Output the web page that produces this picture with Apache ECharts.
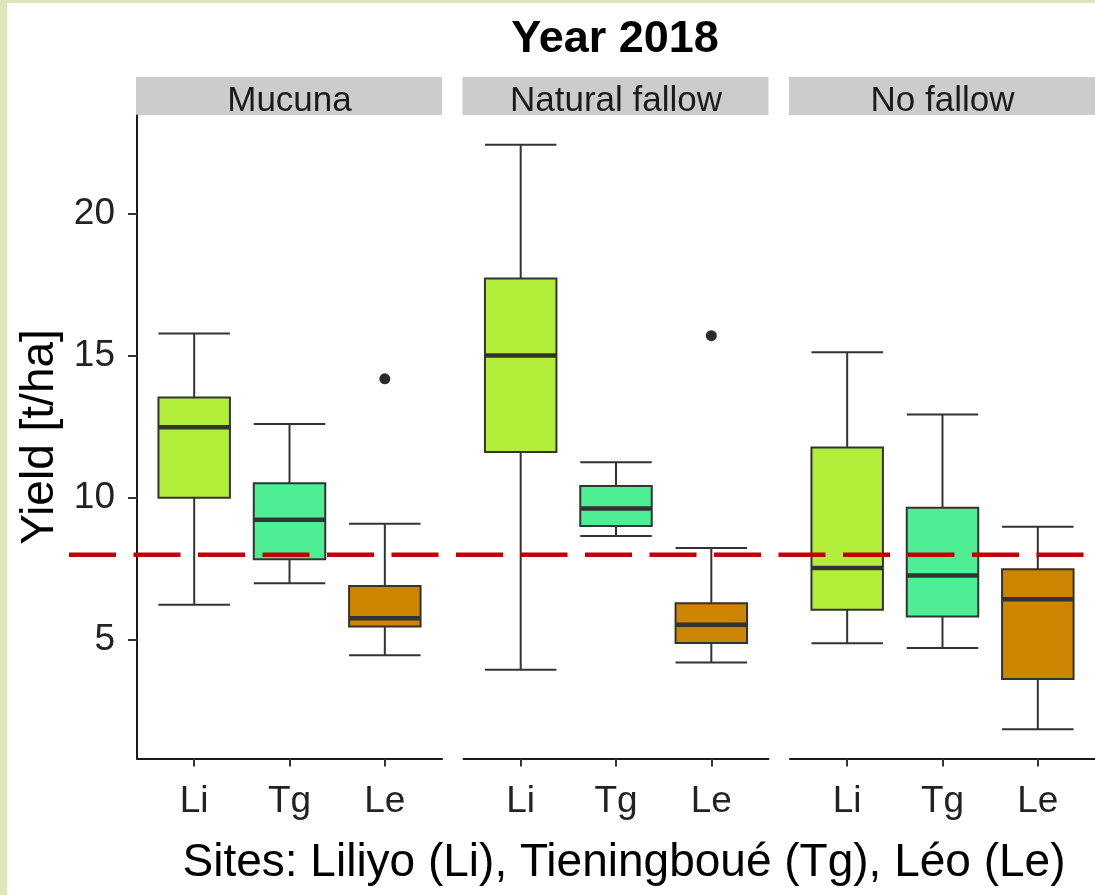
<!DOCTYPE html>
<html>
<head>
<meta charset="utf-8">
<script src="https://cdn.jsdelivr.net/npm/echarts@6/dist/echarts.min.js"></script>
<style>
  html, body { margin: 0; padding: 0; background: #fff; }
  #chart { width: 1095px; height: 895px; }
</style>
</head>
<body>
<div id="chart"></div>
<script>
// ---- data -------------------------------------------------------------
const sites = ['Li', 'Tg', 'Le'];
const treatments = ['Mucuna', 'Natural fallow', 'No fallow'];

// five-number summaries per site, in site order: [min, Q1, median, Q3, max]
const mucunaStats = [
  [6.24, 10.01, 12.49, 13.54, 15.80],
  [7.00, 7.84, 9.23, 10.52, 12.61],
  [4.46, 5.47, 5.76, 6.90, 9.09]
];
const naturalFallowStats = [
  [3.95, 11.62, 15.02, 17.74, 22.45],
  [8.66, 9.01, 9.63, 10.42, 11.26],
  [4.20, 4.89, 5.53, 6.29, 8.24]
];
const noFallowStats = [
  [4.88, 6.06, 7.53, 11.78, 15.14],
  [4.71, 5.82, 7.27, 9.66, 12.94],
  [1.85, 3.62, 6.43, 7.49, 8.99]
];

// outlying plots: site label and yield
const mucunaOutlierSites = ['Le'];
const mucunaOutlierValues = [14.2];
const naturalFallowOutlierSites = ['Le'];
const naturalFallowOutlierValues = [15.72];
const noFallowOutlierSites = [];
const noFallowOutlierValues = [];

const yTicks = [5, 10, 15, 20];
const referenceYield = 8;

// ---- styling / layout -------------------------------------------------
const FONT = '"Liberation Sans", Arial, Helvetica, sans-serif';
const siteColors = ['#b3ee3a', '#4eee94', '#cd8500'];
const ink = '#333333';
const panelLefts = [137, 463.5, 790];
const panelWidth = 305;
const plotTop = 115.5;
const plotHeight = 643;
const yMin = 0.82, yMax = 23.48;
const xMin = 0.4, xMax = 3.6;
const siteIndex = s => sites.indexOf(s) + 1;

const panels = [
  { stats: mucunaStats, oSites: mucunaOutlierSites, oVals: mucunaOutlierValues },
  { stats: naturalFallowStats, oSites: naturalFallowOutlierSites, oVals: naturalFallowOutlierValues },
  { stats: noFallowStats, oSites: noFallowOutlierSites, oVals: noFallowOutlierValues }
];

const grids = panelLefts.map(l => ({ left: l, top: plotTop, width: panelWidth, height: plotHeight }));
// full-width layer for the reference line
grids.push({ left: 69, top: plotTop, width: 1095 - 69, height: plotHeight });

const xAxes = panelLefts.map((_, i) => ({
  gridIndex: i, type: 'value', min: xMin, max: xMax,
  axisLine: { show: true, onZero: false, lineStyle: { color: '#1a1a1a', width: 2 } },
  axisTick: { show: true, customValues: [1, 2, 3], length: 8, lineStyle: { color: ink, width: 2 } },
  axisLabel: {
    customValues: [1, 2, 3], formatter: v => sites[Math.round(v) - 1],
    fontFamily: FONT, fontSize: 37, color: '#222', margin: 25
  },
  splitLine: { show: false }
}));
xAxes.push({ gridIndex: 3, type: 'value', min: 0, max: 1, show: false });

const yAxes = panelLefts.map((_, i) => ({
  gridIndex: i, type: 'value', min: yMin, max: yMax,
  show: i === 0,
  name: i === 0 ? 'Yield [t/ha]' : '',
  nameLocation: 'middle', nameGap: 74,
  nameTextStyle: { fontFamily: FONT, fontSize: 46, color: '#000' },
  axisLine: { show: true, lineStyle: { color: '#1a1a1a', width: 2 } },
  axisTick: { show: true, customValues: yTicks, length: 9, lineStyle: { color: ink, width: 2 } },
  axisLabel: { customValues: yTicks, fontFamily: FONT, fontSize: 37, color: '#222', margin: 22 },
  splitLine: { show: false }
}));
yAxes.push({ gridIndex: 3, type: 'value', min: yMin, max: yMax, show: false });

function boxRenderer(params, api) {
  const x = api.value(0);
  const color = siteColors[Math.round(x) - 1];
  const half = api.size([0.75, 0])[0] / 2;
  const pMin = api.coord([x, api.value(1)]);
  const pQ1 = api.coord([x, api.value(2)]);
  const pMed = api.coord([x, api.value(3)]);
  const pQ3 = api.coord([x, api.value(4)]);
  const pMax = api.coord([x, api.value(5)]);
  const cx = pMed[0];
  const line = (x1, y1, x2, y2, w) => ({
    type: 'line', shape: { x1, y1, x2, y2 },
    style: { stroke: ink, lineWidth: w }
  });
  return {
    type: 'group',
    children: [
      line(cx, pMax[1], cx, pQ3[1], 2),
      line(cx, pQ1[1], cx, pMin[1], 2),
      line(cx - half, pMax[1], cx + half, pMax[1], 2),
      line(cx - half, pMin[1], cx + half, pMin[1], 2),
      {
        type: 'rect',
        shape: { x: cx - half, y: pQ3[1], width: half * 2, height: pQ1[1] - pQ3[1] },
        style: { fill: color, stroke: ink, lineWidth: 2 }
      },
      line(cx - half, pMed[1], cx + half, pMed[1], 4.5)
    ]
  };
}

const series = [];
panels.forEach((p, i) => {
  series.push({
    type: 'custom', name: treatments[i], xAxisIndex: i, yAxisIndex: i,
    data: p.stats.map((s, k) => [k + 1, ...s]),
    encode: { x: 0, y: [1, 2, 3, 4, 5] },
    renderItem: boxRenderer, z: 2, silent: true
  });
  series.push({
    type: 'scatter', xAxisIndex: i, yAxisIndex: i,
    data: p.oSites.map((s, k) => [siteIndex(s), p.oVals[k]]),
    symbolSize: 11, itemStyle: { color: '#2b2b2b', opacity: 1 }, z: 3, silent: true
  });
});
series.push({
  type: 'line', xAxisIndex: 3, yAxisIndex: 3,
  data: [[0, referenceYield], [1, referenceYield]],
  symbol: 'none', silent: true, z: 5,
  lineStyle: { color: '#c00000', width: 4.5, type: [47, 17.5] }
});

const graphic = [
  { type: 'rect', shape: { x: 0, y: 0, width: 1095, height: 3 }, style: { fill: '#dde6b8' } },
  { type: 'rect', shape: { x: 0, y: 0, width: 7, height: 895 }, style: { fill: '#dde6b8' } },
  {
    type: 'text', x: 615, y: 40,
    style: { text: 'Year 2018', font: 'bold 45px ' + FONT, fill: '#000', align: 'center', verticalAlign: 'middle' }
  },
  {
    type: 'text', x: 624, y: 863,
    style: { text: 'Sites: Liliyo (Li), Tieningboué (Tg), Léo (Le)', font: '46px ' + FONT, fill: '#000', align: 'center', verticalAlign: 'middle' }
  }
];
panelLefts.forEach((l, i) => {
  graphic.push({
    type: 'rect', shape: { x: l - 1, y: 77, width: panelWidth + 1, height: 38 },
    style: { fill: '#cccccc' }
  });
  graphic.push({
    type: 'text', x: l + panelWidth / 2, y: 101,
    style: { text: treatments[i], font: '35px ' + FONT, fill: '#1a1a1a', align: 'center', verticalAlign: 'middle' }
  });
});

const chart = echarts.init(document.getElementById('chart'), null, { renderer: 'canvas' });
chart.setOption({
  backgroundColor: '#ffffff',
  animation: false,
  grid: grids,
  xAxis: xAxes,
  yAxis: yAxes,
  series,
  graphic
});
</script>
</body>
</html>
